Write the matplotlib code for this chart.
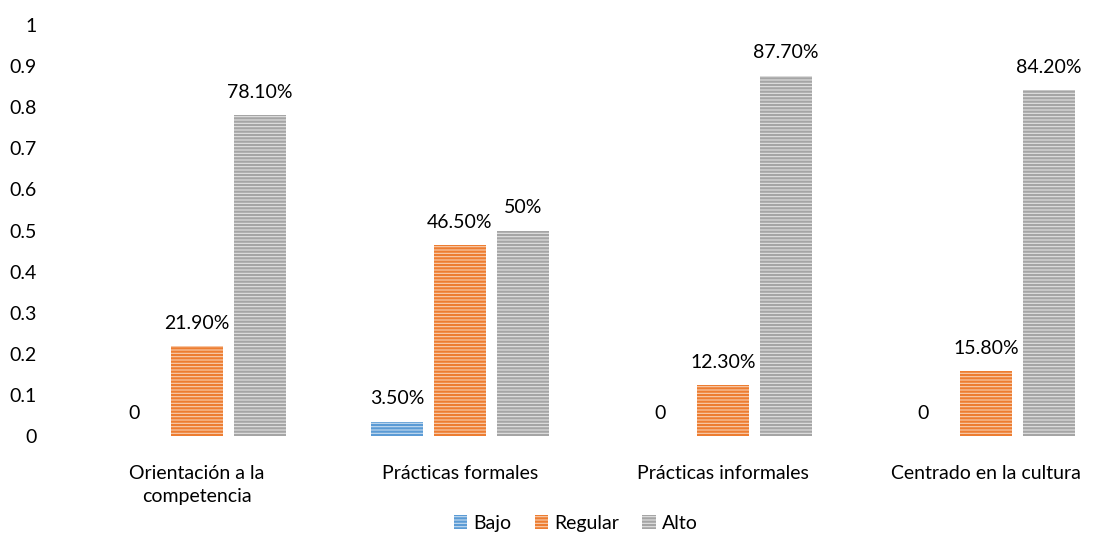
import matplotlib.pyplot as plt
import numpy as np

# data
categories = ["Orientación a la\ncompetencia", "Prácticas formales",
              "Prácticas informales", "Centrado en la cultura"]
series_names = ["Bajo", "Regular", "Alto"]
bajo = [0.0, 0.035, 0.0, 0.0]
regular = [0.219, 0.465, 0.123, 0.158]
alto = [0.781, 0.50, 0.877, 0.842]
bajo_labels = ["0", "3.50%", "0", "0"]
regular_labels = ["21.90%", "46.50%", "12.30%", "15.80%"]
alto_labels = ["78.10%", "50%", "87.70%", "84.20%"]
y_ticks = [0, 0.1, 0.2, 0.3, 0.4, 0.5, 0.6, 0.7, 0.8, 0.9, 1]
y_tick_labels = ["0", "0.1", "0.2", "0.3", "0.4", "0.5", "0.6", "0.7", "0.8", "0.9", "1"]

main_colors = ["#5b9bd5", "#ed7d31", "#a5a5a5"]
light_colors = ["#c5dcf0", "#f9cfb0", "#e2e2e2"]

plt.rcParams["font.family"] = ["Lato", "DejaVu Sans"]
plt.rcParams["hatch.linewidth"] = 1.6

fs = 14

fig = plt.figure(figsize=(11.02, 5.35), dpi=100)
ax = fig.add_axes([60 / 1102, 0.185, 1042 / 1102, 0.768])

x = np.arange(len(categories))
width = 0.198
offset = 0.24

all_values = [bajo, regular, alto]
all_labels = [bajo_labels, regular_labels, alto_labels]
for i, (vals, labs) in enumerate(zip(all_values, all_labels)):
    pos = x + (i - 1) * offset
    bars = ax.bar(pos, vals, width, facecolor=light_colors[i],
                  edgecolor=main_colors[i], linewidth=0, hatch="-----",
                  label=series_names[i])
    for b, lab in zip(bars, labs):
        ax.text(b.get_x() + b.get_width() / 2, b.get_height() + 0.035, lab,
                ha="center", va="bottom", fontsize=fs, color="#000000")

ax.set_xlim(-0.521, 3.441)
ax.set_ylim(0, 1)
ax.set_yticks(y_ticks)
ax.set_yticklabels(y_tick_labels, fontsize=fs)
ax.set_xticks(x)
ax.set_xticklabels(categories, fontsize=fs, linespacing=1.45)
ax.tick_params(axis="both", length=0)
ax.tick_params(axis="y", pad=17)
ax.tick_params(axis="x", pad=21)
for s in ax.spines.values():
    s.set_visible(False)

ax.legend(loc="lower center", bbox_to_anchor=(0.495, -0.275), ncol=3,
          frameon=False, fontsize=fs, handlelength=0.7, handleheight=0.7,
          handletextpad=0.3, columnspacing=1.2)

fig.savefig("out.png", dpi=100)
